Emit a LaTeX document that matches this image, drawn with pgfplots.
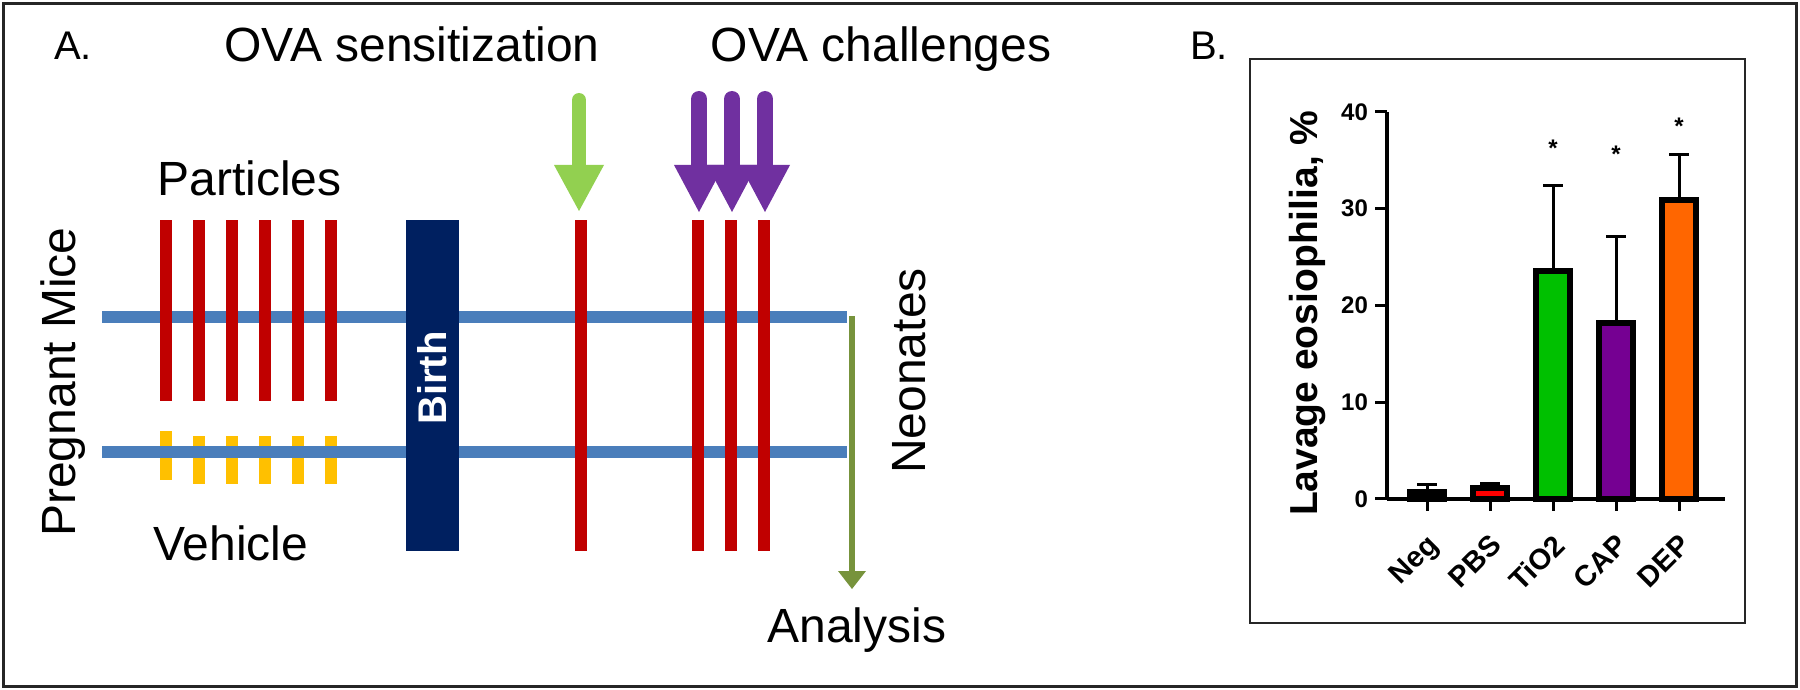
\documentclass[border=0pt]{standalone}
\usepackage{pgfplots}
\pgfplotsset{compat=1.18}
\usepackage{fontspec}
\setmainfont{Liberation Sans}
\definecolor{pred}{HTML}{C00000}
\definecolor{pyel}{HTML}{FFC000}
\definecolor{pblue}{HTML}{4A7EBB}
\definecolor{pnavy}{HTML}{002060}
\definecolor{pgreen}{HTML}{92D050}
\definecolor{ppurple}{HTML}{7030A0}
\definecolor{polive}{HTML}{77933C}
\definecolor{bgreen}{HTML}{00C000}
\definecolor{bpurple}{HTML}{750092}
\definecolor{borange}{HTML}{FF6600}
\definecolor{bred}{HTML}{FF0000}
\begin{document}
\begin{tikzpicture}
\path[use as bounding box] (0,0) rectangle (900pt,345pt);
\begin{axis}[name=A, at={(0,0)}, anchor=south west, scale only axis,
  width=900pt, height=345pt, xmin=0, xmax=1800, ymin=0, ymax=690,
  y dir=reverse, hide axis, clip=false]
% frames
\addplot[black!85, line width=1.5pt] coordinates {(4,4) (1796,4) (1796,686) (4,686)} -- cycle;
\addplot[black!85, line width=1.2pt] coordinates {(1250,59) (1745,59) (1745,623) (1250,623)} -- cycle;
% yellow vehicle dashes
\addplot[pyel, line width=6.3pt] coordinates {(166,431) (166,480)};
\addplot[pyel, line width=6.3pt] coordinates {(199,436) (199,484)};
\addplot[pyel, line width=6.3pt] coordinates {(232,436) (232,484)};
\addplot[pyel, line width=6.3pt] coordinates {(265,436) (265,484)};
\addplot[pyel, line width=6.3pt] coordinates {(298,436) (298,484)};
\addplot[pyel, line width=6.3pt] coordinates {(331,436) (331,484)};
% blue timelines
\addplot[pblue, line width=6pt] coordinates {(102,317) (847,317)};
\addplot[pblue, line width=6pt] coordinates {(102,452) (847,452)};
% red particle bars
\addplot[pred, line width=6.3pt] coordinates {(166,220) (166,401)};
\addplot[pred, line width=6.3pt] coordinates {(199,220) (199,401)};
\addplot[pred, line width=6.3pt] coordinates {(232,220) (232,401)};
\addplot[pred, line width=6.3pt] coordinates {(265,220) (265,401)};
\addplot[pred, line width=6.3pt] coordinates {(298,220) (298,401)};
\addplot[pred, line width=6.3pt] coordinates {(331,220) (331,401)};
% red OVA lines
\addplot[pred, line width=6.3pt] coordinates {(581,220) (581,551)};
\addplot[pred, line width=6.3pt] coordinates {(698,220) (698,551)};
\addplot[pred, line width=6.3pt] coordinates {(731,220) (731,551)};
\addplot[pred, line width=6.3pt] coordinates {(764,220) (764,551)};
% birth box
\addplot[fill=pnavy, draw=none] coordinates {(406,220) (459,220) (459,551) (406,551)} -- cycle;
% green arrow
\addplot[pgreen, line width=7pt, line cap=round] coordinates {(579,100) (579,170)};
\addplot[fill=pgreen, draw=none] coordinates {(554,165) (604,165) (579,211)} -- cycle;
% purple arrows
\addplot[ppurple, line width=8pt, line cap=round] coordinates {(699,99) (699,170)};
\addplot[ppurple, line width=8pt, line cap=round] coordinates {(732,99) (732,170)};
\addplot[ppurple, line width=8pt, line cap=round] coordinates {(765,99) (765,170)};
\addplot[fill=ppurple, draw=none] coordinates {(674,165) (724,165) (699,212)} -- cycle;
\addplot[fill=ppurple, draw=none] coordinates {(707,165) (757,165) (732,212)} -- cycle;
\addplot[fill=ppurple, draw=none] coordinates {(740,165) (790,165) (765,212)} -- cycle;
% olive arrow
\addplot[polive, line width=3pt] coordinates {(852,316) (852,574)};
\addplot[fill=polive, draw=none] coordinates {(838,571) (866,571) (852,589)} -- cycle;
% texts
\node[anchor=base west, font=\fontsize{20}{24}\selectfont] at (axis cs:47,60) {A.};
\node[anchor=base west, font=\fontsize{20}{24}\selectfont] at (axis cs:1183,60) {B.};
\node[anchor=base, font=\fontsize{24}{28}\selectfont] at (axis cs:412,62) {OVA sensitization};
\node[anchor=base, font=\fontsize{24}{28}\selectfont] at (axis cs:881,62) {OVA challenges};
\node[anchor=base west, inner sep=0pt, font=\fontsize{24}{28}\selectfont] at (axis cs:157,195) {Particles};
\node[anchor=base west, inner sep=0pt, font=\fontsize{24}{28}\selectfont] at (axis cs:153,560) {Vehicle};
\node[anchor=base west, inner sep=0pt, font=\fontsize{24}{28}\selectfont] at (axis cs:767,642) {Analysis};
\node[anchor=base, rotate=90, inner sep=0pt, font=\fontsize{24}{28}\selectfont] at (axis cs:75,382) {Pregnant Mice};
\node[anchor=base, rotate=90, inner sep=0pt, font=\fontsize{24}{28}\selectfont] at (axis cs:925,371) {Neonates};
\node[rotate=90, text=white, font=\bfseries\fontsize{20}{24}\selectfont] at (axis cs:432,378) {Birth};
\end{axis}
\begin{axis}[at={(693.5pt,95.5pt)}, anchor=south west, scale only axis,
  width=169pt, height=193.5pt,
  xmin=-0.635, xmax=4.73, ymin=0, ymax=40,
  axis x line*=bottom, axis y line*=left,
  axis line style={line width=1.7pt, black},
  xtick={0,1,2,3,4}, xticklabels={Neg,PBS,TiO2,CAP,DEP},
  ytick={0,10,20,30,40},
  tick style={line width=1.5pt, black},
  tick align=outside, major tick length=6pt,
  xticklabel style={rotate=45, anchor=north east, inner sep=1pt, xshift=-7pt, yshift=-6pt, font=\bfseries\fontsize{14.5}{16}\selectfont},
  yticklabel style={font=\bfseries\fontsize{12}{13}\selectfont},
  /pgf/number format/assume math mode=true,
  ylabel={Lavage eosiophilia, \%},
  ylabel style={font=\bfseries\fontsize{19.5}{20}\selectfont, at={(axis description cs:-0.234,0.48)}, anchor=center},
  clip=false,
  mybar/.style={ybar, bar width=17pt, bar shift=0pt, draw=black, line width=3pt,
    /pgfplots/error bars/y dir=plus, /pgfplots/error bars/y explicit,
    /pgfplots/error bars/error bar style={line width=1.5pt, black},
    /pgfplots/error bars/error mark options={rotate=90, mark size=5pt, line width=1.5pt, black}},
]
\addplot[mybar, fill=black] coordinates {(0,0.7) +- (0,0.8)};
\addplot[mybar, fill=bred] coordinates {(1,1.1) +- (0,0.5)};
\addplot[mybar, fill=bgreen] coordinates {(2,23.6) +- (0,8.8)};
\addplot[mybar, fill=bpurple] coordinates {(3,18.2) +- (0,8.9)};
\addplot[mybar, fill=borange] coordinates {(4,30.9) +- (0,4.7)};
\addplot[only marks, mark=text, text mark={\bfseries\fontsize{12}{12}\selectfont *}] coordinates {(2,36.3) (3,35.6) (4,38.5)};
\end{axis}
\end{tikzpicture}
\end{document}
